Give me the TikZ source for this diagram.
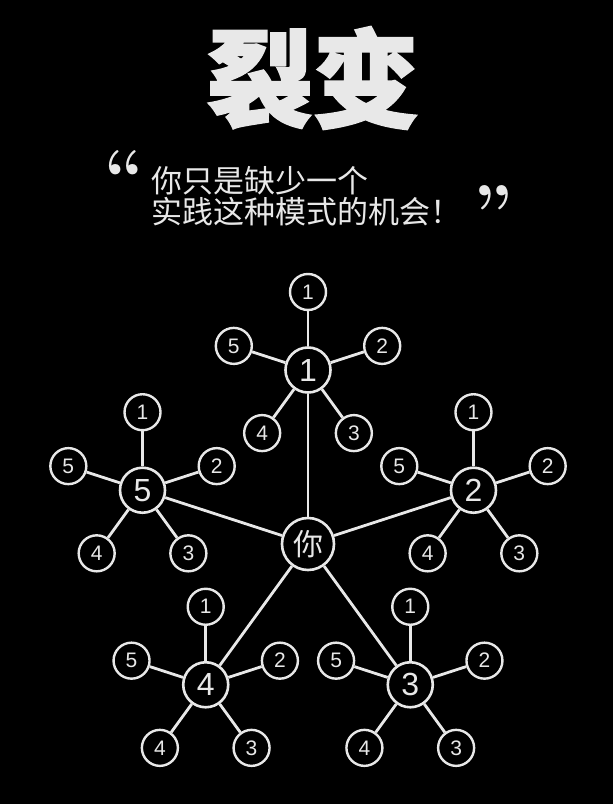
\documentclass[tikz,border=0pt]{standalone}
\usepackage{fontspec}
\usetikzlibrary{calc}
\newfontfamily\cjk{Noto Sans CJK SC}
\newfontfamily\cjkheavy{Noto Sans CJK SC}[BoldFeatures={FakeBold=2.2}]
\newfontfamily\digits{Liberation Sans}
\definecolor{chalk}{HTML}{E8E8E8}

\tikzset{
  link/.style={draw=chalk, line width=2.8pt},
  hub/.style={circle, draw=chalk, fill=black, line width=2.6pt, minimum size=45pt, inner sep=0pt, text=chalk, font=\digits\fontsize{32}{32}\selectfont},
  leaf/.style={circle, draw=chalk, fill=black, line width=2.4pt, minimum size=36pt, inner sep=0pt, text=chalk, font=\digits\fontsize{21}{21}\selectfont},
  quote/.style={anchor=west, inner sep=0pt, text=chalk, font=\cjk\fontsize{31}{31}\selectfont}
}

\begin{document}
\begin{tikzpicture}[x=1pt, y=1pt]
    \fill [black] (0, 0) rectangle (613, 804);
    \useasboundingbox (0, 0) rectangle (613, 804);

    % title and quote
    \node [inner sep=0pt, text=chalk, font=\cjkheavy\bfseries\fontsize{106}{106}\selectfont] (title) at (313, 726) {裂变};
    \node [inner sep=0pt, text=chalk, font=\bfseries\fontsize{72}{72}\selectfont] (open) at (124, 628) {“};
    \node [quote] (line1) at (151, 623) {你只是缺少一个};
    \node [quote] (line2) at (151, 592) {实践这种模式的机会！};
    \node [inner sep=0pt, text=chalk, font=\bfseries\fontsize{72}{72}\selectfont] (close) at (493, 593) {”};

    % the network
    \node [hub, minimum size=52pt, font=\cjk\fontsize{30}{30}\selectfont] (you) at (308, 260) {你};
    \foreach \i/\a in {1/90, 2/18, 3/-54, 4/-126, 5/162} {
        \node [hub] (h\i) at ($(you) + (\a:174)$) {\i};
        \draw [link] (you) -- (h\i);
        \foreach \j/\b in {1/90, 2/18, 3/-54, 4/-126, 5/162} {
            \node [leaf] (l\i\j) at ($(h\i) + (\b:78)$) {\j};
            \draw [link] (h\i) -- (l\i\j);
        }
    }
\end{tikzpicture}
\end{document}
